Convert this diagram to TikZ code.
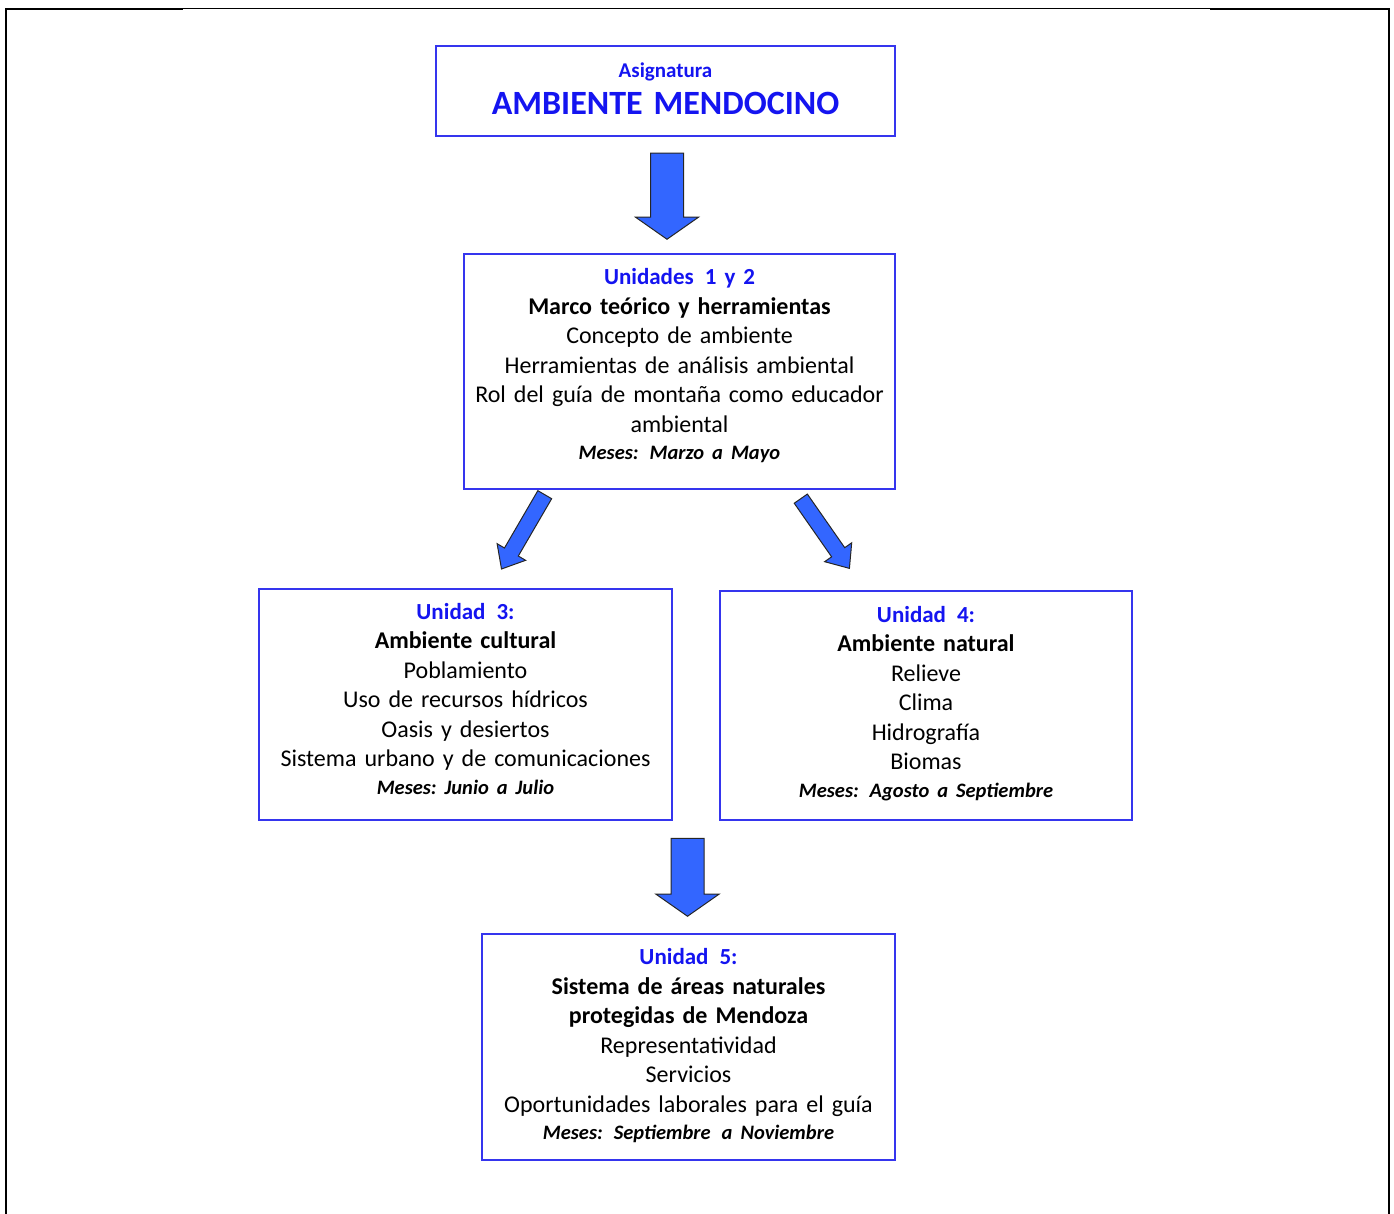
\documentclass[tikz,border=0pt]{standalone}
\usepackage{fontspec}
\setmainfont[WordSpace=0.8]{Carlito}
\usetikzlibrary{shapes.arrows,calc}

\definecolor{titleblue}{HTML}{1414F0}
\definecolor{boxblue}{HTML}{3535EE}
\definecolor{arrowblue}{HTML}{3366FF}

\tikzset{
  unitbox/.style={draw=boxblue, line width=1.5pt, align=center, inner sep=0pt,
    font=\fontsize{24}{29.5}\selectfont},
  bigarrow/.style={single arrow, draw=black!85, fill=arrowblue, line width=1pt,
    inner xsep=0pt, inner ysep=16pt, single arrow head extend=15pt,
    single arrow tip angle=110, anchor=tail},
  slimarrow/.style={bigarrow, inner ysep=7.5pt, single arrow head extend=8.5pt,
    single arrow tip angle=80},
}
\newcommand{\unitname}[1]{{\color{titleblue}\fontsize{23}{29.5}\selectfont\bfseries #1}}
\newcommand{\mesesline}[1]{{\fontsize{20.5}{28}\selectfont\bfseries\itshape #1}}
\newcommand{\gap}{\ \hspace{3pt}}
% extra room below the last line, so the text sits higher in its box
\newcommand{\lift}[1]{\par\vspace{#1}\nointerlineskip\hbox{}}

\begin{document}
\begin{tikzpicture}[x=1pt, y=-1pt]
  \useasboundingbox (0,0) rectangle (1394,1214);
  % page frame
  \draw[line width=2pt] (6,1214) -- (6,9.2) -- (183,9.2);
  \draw[line width=1pt] (183,8.3) -- (1210,8.3);
  \draw[line width=2pt] (1210,9.5) -- (1388.7,9.5) -- (1388.7,1214);

  % boxes
  \node[unitbox, minimum width=459pt, minimum height=90pt, text width=459pt] (asig) at (665.5,91)
    {{\color{titleblue}\fontsize{21}{33}\selectfont\bfseries Asignatura}\\[8pt]
     {\color{titleblue}\fontsize{34}{33}\selectfont\bfseries AMBIENTE\gap MENDOCINO}\lift{4pt}};
  \node[unitbox, minimum width=431pt, minimum height=235pt, text width=431pt] (u12) at (679.5,371.5)
    {\unitname{Unidades\gap 1 y 2}\\
     \textbf{Marco teórico y herramientas}\\
     Concepto de ambiente\\
     Herramientas de análisis ambiental\\
     Rol del guía de montaña como educador\\
     ambiental\\[-2pt]
     \mesesline{Meses:\gap Marzo a Mayo}\lift{11pt}};
  \node[unitbox, minimum width=413pt, minimum height=231pt, text width=413pt] (u3) at (465.5,704.5)
    {\unitname{Unidad\gap 3:}\\
     \textbf{Ambiente cultural}\\
     Poblamiento\\
     Uso de recursos hídricos\\
     Oasis y desiertos\\
     Sistema urbano y de comunicaciones\\[-2pt]
     \mesesline{Meses:\ Junio a Julio}\lift{11pt}};
  \node[unitbox, minimum width=412pt, minimum height=229pt, text width=412pt] (u4) at (926,705.5)
    {\unitname{Unidad\gap 4:}\\
     \textbf{Ambiente natural}\\
     Relieve\\
     Clima\\
     Hidrografía\\
     Biomas\\[-2pt]
     \mesesline{Meses:\gap Agosto a Septiembre}\lift{4pt}};
  \node[unitbox, minimum width=413pt, minimum height=226pt, text width=413pt] (u5) at (688.5,1047)
    {\unitname{Unidad\gap 5:}\\
     \textbf{Sistema de áreas naturales}\\
     \textbf{protegidas de Mendoza}\\
     Representatividad\\
     Servicios\\
     Oportunidades laborales para el guía\\[-2pt]
     \mesesline{Meses:\gap Septiembre\gap a Noviembre}\lift{2pt}};

  % arrows
  \path (asig.south) ++(1.5,16) node[bigarrow, rotate=-90, minimum height=86pt] (a1) {};
  \path (u12.south) ++(-134.5,4.5) node[slimarrow, rotate=239.8, minimum height=86pt] (a2) {};
  \path (u12.south) ++(121,8.5) node[slimarrow, rotate=-55.1, minimum height=85pt] (a3) {};
  \path (u3.south -| u5.north) ++(-1,17) node[bigarrow, rotate=-90, minimum height=78pt] (a4) {};
\end{tikzpicture}
\end{document}
